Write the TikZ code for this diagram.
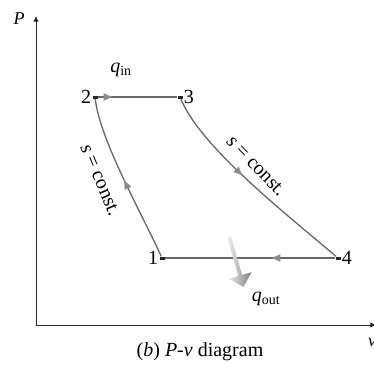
\documentclass[tikz,border=0pt]{standalone}
\usepackage{fontspec}
\setmainfont{Liberation Serif}
\usetikzlibrary{arrows.meta, calc, positioning, decorations.markings, shapes.arrows}

\begin{document}
\begin{tikzpicture}[
  x=1pt, y=-1pt,
  >={Latex[length=2mm,width=2mm]},
  txt/.style={font=\fontsize{20}{22}\selectfont, inner sep=1pt},
  axis/.style={->, line width=1pt, black!85},
  proc/.style={draw=black!60, line width=1.3pt},
  midarr/.style={postaction={decorate, decoration={markings,
      mark=at position #1 with {\arrow[black!45]{Latex[length=10pt,width=8pt]}}}}},
  st/.style={fill=black!85, minimum width=5pt, minimum height=3pt, inner sep=0pt},
]
\useasboundingbox (0,0) rectangle (374,364);
% Axes
\coordinate (O)  at (36,325);
\coordinate (yt) at (36,16);
\coordinate (xt) at (376,325);
\draw[axis] (O) -- (yt);
\draw[axis] (O) -- (xt);
\node[txt, font=\fontsize{18}{20}\selectfont\itshape] (P) at (19,19) {P};
\node[txt, font=\fontsize{18}{20}\selectfont\itshape] (vax) at (372,342) {v};
% States
\node[st] (s1) at (162,258) {};
\node[st] (s2) at (95,97)   {};
\node[st] (s3) at (180,97)  {};
\node[st] (s4) at (338,258) {};
\node[txt, left=0pt of s1]  {1};
\node[txt, left=0pt of s2]  {2};
\node[txt, right=0pt of s3] {3};
\node[txt, right=0pt of s4] {4};
% Processes
\draw[proc, midarr=0.2]  (s2) -- (s3);
\draw[proc, midarr=0.45] (s3) .. controls (200,145) and (275,205) .. (s4);
\draw[proc, midarr=0.38] (s4) -- (s1);
\draw[proc, midarr=0.5]  (s1) .. controls (140,210) and (100,140) .. (s2);
% Heat transfer
\node[txt] (qin) at (121,70) {\textit{q}\textsubscript{in}};
\node[single arrow, rotate=-74, minimum height=52pt,
      minimum width=24pt, single arrow head extend=6pt, inner sep=1pt,
      left color=black!6, right color=black!50, draw=none]
      (qarr) at (236,261) {};
\node[txt] (qout) at (266,299) {\textit{q}\textsubscript{out}};
% Process labels
\node[txt, rotate=-67] (sc12) at (100,180) {\textit{s} = const.};
\node[txt, rotate=-46] (sc34) at (256,166) {\textit{s} = const.};
% Caption
\node[txt] (cap) at (200,352) {(\textit{b}) \textit{P}-\textit{v} diagram};
\end{tikzpicture}
\end{document}
